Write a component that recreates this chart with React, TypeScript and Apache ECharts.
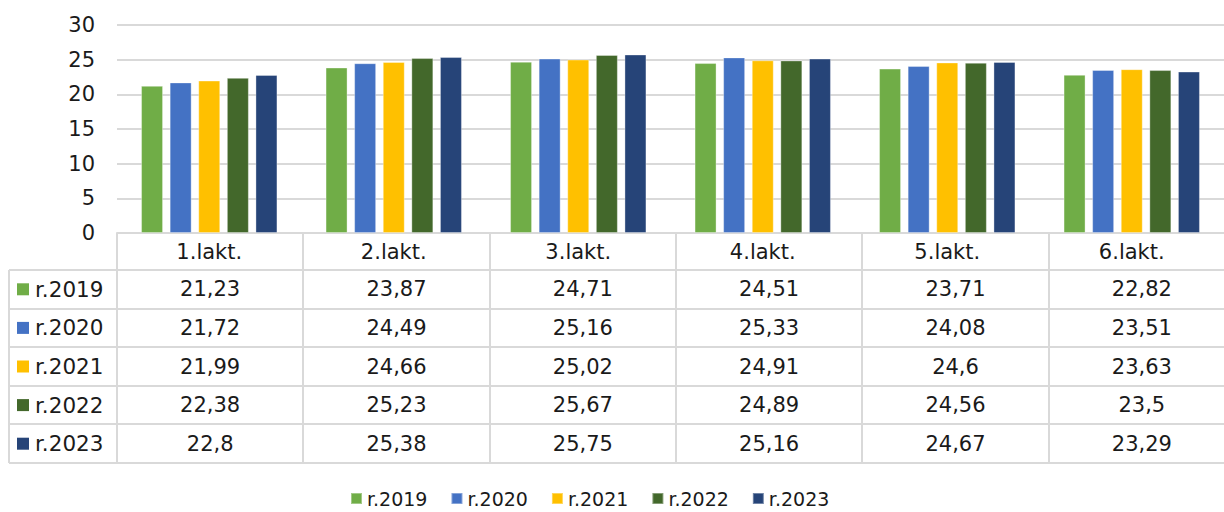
import React, { useEffect, useRef } from "react";
import * as echarts from "echarts";

const categories = ["1.lakt.", "2.lakt.", "3.lakt.", "4.lakt.", "5.lakt.", "6.lakt."];
const seriesNames = ["r.2019", "r.2020", "r.2021", "r.2022", "r.2023"];
const r2019 = [21.23, 23.87, 24.71, 24.51, 23.71, 22.82];
const r2020 = [21.72, 24.49, 25.16, 25.33, 24.08, 23.51];
const r2021 = [21.99, 24.66, 25.02, 24.91, 24.6, 23.63];
const r2022 = [22.38, 25.23, 25.67, 24.89, 24.56, 23.5];
const r2023 = [22.8, 25.38, 25.75, 25.16, 24.67, 23.29];
const seriesData = [r2019, r2020, r2021, r2022, r2023];
const colors = ["#70AD47", "#4472C4", "#FFC000", "#43682B", "#264478"];
const yTicks = [0, 5, 10, 15, 20, 25, 30];

const FONT = "'DejaVu Sans'";

export default function App() {
  const ref = useRef<HTMLDivElement>(null);
  useEffect(() => {
    if (!ref.current) return;
    const chart = echarts.init(ref.current, undefined, { renderer: "svg" });

    const gridLeft = 117;
    const gridTop = 25;
    const gridBottomY = 233;
    const gridWidth = 1118;
    const colW = gridWidth / categories.length;
    const tableLeft = 9;
    const rowTop = 270;
    const rowH = 38.6;
    const lineColor = "#d9d9d9";
    const textColor = "#1a1a1a";
    const tableBottom = rowTop + rowH * seriesNames.length;

    const graphics: any[] = [];
    for (let r = 0; r <= seriesNames.length; r++) {
      const y = Math.round(rowTop + r * rowH);
      graphics.push({
        type: "line",
        shape: { x1: tableLeft, y1: y, x2: gridLeft + gridWidth, y2: y },
        style: { stroke: lineColor, lineWidth: 2 },
        silent: true,
      });
    }
    graphics.push({
      type: "line",
      shape: { x1: tableLeft, y1: rowTop, x2: tableLeft, y2: tableBottom },
      style: { stroke: lineColor, lineWidth: 2 },
      silent: true,
    });
    for (let c = 0; c <= categories.length; c++) {
      const x = Math.round(gridLeft + c * colW);
      graphics.push({
        type: "line",
        shape: { x1: x, y1: gridBottomY, x2: x, y2: tableBottom },
        style: { stroke: lineColor, lineWidth: 2 },
        silent: true,
      });
    }
    seriesNames.forEach((name, r) => {
      const cy = rowTop + r * rowH + rowH / 2;
      graphics.push({
        type: "rect",
        shape: { x: 17, y: cy - 6, width: 12, height: 12 },
        style: { fill: colors[r] },
        silent: true,
      });
      graphics.push({
        type: "text",
        x: 35,
        y: cy,
        style: {
          text: name,
          fill: textColor,
          font: `21.5px ${FONT}`,
          verticalAlign: "middle",
          align: "left",
        },
        silent: true,
      });
      seriesData[r].forEach((v, c) => {
        graphics.push({
          type: "text",
          x: gridLeft + (c + 0.5) * colW,
          y: cy,
          style: {
            text: String(v).replace(".", ","),
            fill: textColor,
            font: `21px ${FONT}`,
            verticalAlign: "middle",
            align: "center",
          },
          silent: true,
        });
      });
    });

    chart.setOption({
      animation: false,
      color: colors,
      grid: {
        left: gridLeft,
        top: gridTop,
        width: gridWidth,
        height: gridBottomY - gridTop,
        containLabel: false,
      },
      legend: {
        left: 345,
        top: 484,
        itemWidth: 11,
        itemHeight: 11,
        itemGap: 23,
        icon: "rect",
        data: seriesNames,
        textStyle: { fontFamily: FONT, fontSize: 19, color: textColor, lineHeight: 19 },
      },
      xAxis: {
        type: "category",
        data: categories,
        axisLine: { show: true, lineStyle: { color: lineColor, width: 2 } },
        axisTick: { show: false },
        axisLabel: {
          margin: 8,
          fontFamily: FONT,
          fontSize: 21,
          color: textColor,
          interval: 0,
        },
      },
      yAxis: {
        type: "value",
        min: 0,
        max: 30,
        interval: 5,
        axisLine: { show: false },
        axisTick: { show: false },
        splitLine: { lineStyle: { color: lineColor, width: 2 } },
        axisLabel: {
          margin: 22,
          fontFamily: FONT,
          fontSize: 21,
          color: textColor,
          formatter: (v: number) => (yTicks.includes(v) ? String(v) : ""),
        },
      },
      series: seriesNames.map((name, i) => ({
        name,
        type: "bar",
        data: seriesData[i],
        barWidth: 22,
        barGap: "30%",
        itemStyle: { color: colors[i], borderColor: "rgba(255,255,255,0.35)", borderWidth: 1 },
      })),
      graphic: graphics,
    });

    return () => chart.dispose();
  }, []);

  return (
    <div
      ref={ref}
      style={{ position: "fixed", left: 0, top: 0, width: 1224, height: 512, background: "#fff" }}
    />
  );
}
